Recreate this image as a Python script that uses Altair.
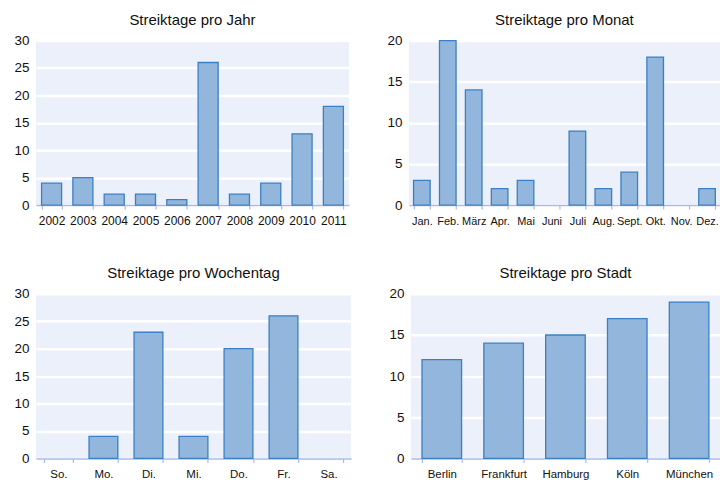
import altair as alt
import pandas as pd

# ---- data ----
jahre = ["2002", "2003", "2004", "2005", "2006", "2007", "2008", "2009", "2010", "2011"]
jahr_werte = [4, 5, 2, 2, 1, 26, 2, 4, 13, 18]

monate = ["Jan.", "Feb.", "März", "Apr.", "Mai", "Juni", "Juli", "Aug.", "Sept.", "Okt.", "Nov.", "Dez."]
monat_werte = [3, 20, 14, 2, 3, 0, 9, 2, 4, 18, 0, 2]

wochentage = ["So.", "Mo.", "Di.", "Mi.", "Do.", "Fr.", "Sa."]
wochentag_werte = [0, 4, 23, 4, 20, 26, 0]

staedte = ["Berlin", "Frankfurt", "Hamburg", "Köln", "München"]
stadt_werte = [12, 14, 15, 17, 19]

FONT = "Liberation Sans"
FILL = "#92b6dc"
STROKE = "#3b80c4"


def panel(cats, vals, title, ymax, width, height, label_size):
    df = pd.DataFrame({"k": cats, "v": vals})
    return (
        alt.Chart(df, title=alt.Title(title, fontSize=15, font=FONT, fontWeight="normal",
                                      color="#111111", offset=6))
        .mark_bar(fill=FILL, stroke=STROKE, strokeWidth=1.3)
        .encode(
            x=alt.X("k:N", sort=cats, title=None,
                    scale=alt.Scale(paddingInner=0.36, paddingOuter=0.18),
                    axis=alt.Axis(labelAngle=0, labelFontSize=label_size, labelFont=FONT,
                                  labelColor="#111111", domainColor="#a9bde6", domainWidth=1.5,
                                  tickColor="#a9bde6", tickSize=4, tickWidth=1.2,
                                  tickBand="extent", labelPadding=6, grid=False)),
            y=alt.Y("v:Q", title=None,
                    scale=alt.Scale(domain=[0, ymax], nice=False),
                    axis=alt.Axis(values=list(range(0, ymax + 1, 5)), labelFontSize=13.5,
                                  labelFont=FONT, labelColor="#111111", domain=False,
                                  ticks=False, labelPadding=7, grid=True,
                                  gridColor="#ffffff", gridWidth=2.5)),
            strokeOpacity=alt.condition(alt.datum.v > 0, alt.value(1), alt.value(0)),
        )
        .properties(width=width, height=height)
    )


top = alt.hconcat(
    panel(jahre, jahr_werte, "Streiktage pro Jahr", 30, 314, 165, 12),
    panel(monate, monat_werte, "Streiktage pro Monat", 20, 312, 165, 11),
    spacing=37,
)
bottom = alt.hconcat(
    panel(wochentage, wochentag_werte, "Streiktage pro Wochentag", 30, 316, 165, 11.5),
    panel(staedte, stadt_werte, "Streiktage pro Stadt", 20, 310, 165, 11.5),
    spacing=37,
)

chart = (
    alt.vconcat(top, bottom, spacing=40)
    .properties(padding={"left": 5, "top": 4, "right": 0, "bottom": 0}, background="#ffffff")
    .configure_view(fill="#ecf0fb", stroke=None)
)

chart.save("out.html", embed_options={"renderer": "svg", "actions": False})
